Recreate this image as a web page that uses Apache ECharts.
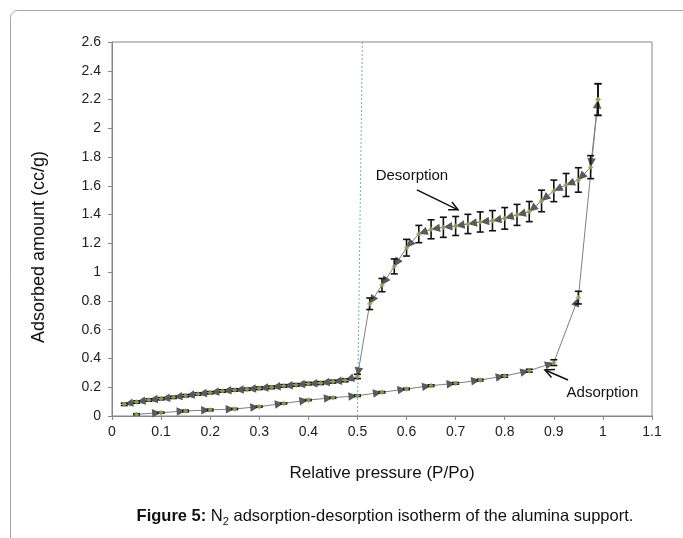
<!DOCTYPE html>
<html><head><meta charset="utf-8">
<script src="https://cdn.jsdelivr.net/npm/echarts@6/dist/echarts.min.js"></script>
<style>html,body{margin:0;padding:0;background:#fff}#c{width:683px;height:538px}</style>
</head><body><div id="c"></div>
<script>
// Adsorption branch (increasing P/Po)
const adsX = [0.05,0.1,0.15,0.2,0.25,0.3,0.35,0.4,0.45,0.5,0.55,0.6,0.65,0.7,0.75,0.8,0.85,0.9,0.95,0.99];
const adsY = [0.012,0.023,0.035,0.042,0.049,0.065,0.088,0.111,0.127,0.141,0.165,0.188,0.211,0.227,0.25,0.278,0.315,0.371,0.823,2.2];
const adsErr = [0.004,0.004,0.006,0.006,0.004,0.004,0.004,0.004,0.004,0.005,0.005,0.005,0.006,0.006,0.006,0.008,0.01,0.02,0.044,0.11];
// Desorption branch (decreasing P/Po)
const desX = [0.99,0.975,0.95,0.925,0.9,0.875,0.85,0.825,0.8,0.775,0.75,0.725,0.7,0.675,0.65,0.625,0.6,0.575,0.55,0.525,0.5,0.475,0.45,0.425,0.4,0.375,0.35,0.325,0.3,0.275,0.25,0.225,0.2,0.175,0.15,0.125,0.1,0.075,0.05,0.025];
const desY = [2.2,1.73,1.641,1.606,1.565,1.495,1.421,1.398,1.374,1.358,1.349,1.335,1.321,1.312,1.298,1.265,1.17,1.04,0.91,0.78,0.275,0.248,0.239,0.229,0.225,0.216,0.209,0.199,0.193,0.186,0.181,0.174,0.162,0.153,0.141,0.13,0.12,0.111,0.097,0.081];
const desErr = [0.11,0.08,0.085,0.08,0.075,0.075,0.07,0.073,0.075,0.07,0.07,0.067,0.066,0.07,0.066,0.06,0.058,0.052,0.046,0.04,0.015,0.01,0.01,0.01,0.009,0.009,0.009,0.009,0.009,0.008,0.008,0.008,0.008,0.008,0.008,0.008,0.008,0.008,0.008,0.008];

const xTitle = 'Relative pressure (P/Po)';
const yTitle = 'Adsorbed amount (cc/g)';
const captionBold = 'Figure 5:';
const captionRest = ' adsorption-desorption isotherm of the alumina support.';
const refLineX = [0.5, 0.51];
const refLineY = [0, 2.6];
// annotations in data space
const annDes = {text: 'Desorption', at: [0.611, 1.672], tail: [0.621, 1.572], head: [0.705, 1.433]};
const annAds = {text: 'Adsorption', at: [0.999, 0.16], tail: [0.929, 0.25], head: [0.882, 0.32]};

const FONT = 'Liberation Sans, Arial, sans-serif';
const zip = (xs, ys) => xs.map((x, i) => [x, ys[i]]);

function arrowSeries(xs, ys) {
  const data = [];
  for (let i = 1; i < xs.length; i++) data.push([xs[i], ys[i], xs[i-1], ys[i-1]]);
  return {
    type: 'custom', z: 3, silent: true, clip: false,
    encode: {x: [0, 2], y: [1, 3]},
    data,
    renderItem(params, api) {
      const p = api.coord([api.value(0), api.value(1)]);
      const q = api.coord([api.value(2), api.value(3)]);
      let dx = p[0] - q[0], dy = p[1] - q[1];
      const len = Math.hypot(dx, dy) || 1; dx /= len; dy /= len;
      const L = 9, W = 8.5;
      const bx = p[0] - dx * L, by = p[1] - dy * L;
      const nx = -dy * W / 2, ny = dx * W / 2;
      return {type: 'polygon', shape: {points: [[p[0], p[1]], [bx + nx, by + ny], [bx - nx, by - ny]]}, style: {fill: '#5a5a5a'}};
    }
  };
}
function errSeries(xs, ys, es) {
  return {
    type: 'custom', z: 4, silent: true, clip: false,
    encode: {x: 0, y: [1, 2]},
    data: xs.map((x, i) => [x, ys[i] - es[i], ys[i] + es[i]]),
    renderItem(params, api) {
      const x = api.value(0);
      const lo = api.coord([x, api.value(1)]), hi = api.coord([x, api.value(2)]);
      const c = 3.5, st = {stroke: '#111', lineWidth: 1.6};
      return {type: 'group', children: [
        {type: 'line', shape: {x1: lo[0], y1: lo[1], x2: hi[0], y2: hi[1]}, style: st},
        {type: 'line', shape: {x1: lo[0] - c, y1: lo[1], x2: lo[0] + c, y2: lo[1]}, style: st},
        {type: 'line', shape: {x1: hi[0] - c, y1: hi[1], x2: hi[0] + c, y2: hi[1]}, style: st}
      ]};
    }
  };
}
const lineS = (xs, ys) => ({
  type: 'line', data: zip(xs, ys), symbol: 'none', z: 2, silent: true,
  lineStyle: {color: '#7f7f7f', width: 1}
});
const dotS = (xs, ys) => ({
  type: 'scatter', data: zip(xs, ys), symbol: 'diamond', symbolSize: 5, z: 5, silent: true,
  itemStyle: {color: '#9bbb59', borderColor: '#76923c', borderWidth: 0.5}
});

const chart = echarts.init(document.getElementById('c'), null, {renderer: 'canvas'});
chart.setOption({
  animation: false,
  backgroundColor: '#fff',
  grid: {left: 112, right: 31, top: 42, bottom: 122, show: true, borderColor: '#868686', borderWidth: 1, containLabel: false, outerBoundsMode: 'none'},
  xAxis: {
    type: 'value', min: 0, max: 1.1, interval: 0.1,
    axisLine: {show: true, lineStyle: {color: '#868686'}},
    axisTick: {show: true, length: 4, lineStyle: {color: '#868686'}},
    axisLabel: {fontSize: 14, color: '#222', margin: 9, fontFamily: FONT},
    splitLine: {show: false}
  },
  yAxis: {
    type: 'value', min: 0, max: 2.6, interval: 0.2,
    axisLine: {show: true, lineStyle: {color: '#868686'}},
    axisTick: {show: true, length: 4, lineStyle: {color: '#868686'}},
    axisLabel: {fontSize: 14, color: '#222', margin: 11, fontFamily: FONT},
    splitLine: {show: false}
  },
  series: [
    {type: 'line', data: zip(refLineX, refLineY), symbol: 'none', z: 1, silent: true,
     lineStyle: {color: '#7aa6dc', width: 1, type: [2, 2]}},
    lineS(adsX, adsY),
    lineS(desX, desY),
    arrowSeries(adsX, adsY),
    arrowSeries(desX, desY),
    errSeries(adsX, adsY, adsErr),
    errSeries(desX, desY, desErr),
    dotS(adsX, adsY),
    dotS(desX, desY)
  ]
});

function arrowGraphic(ann) {
  const t = chart.convertToPixel({gridIndex: 0}, ann.tail);
  const h = chart.convertToPixel({gridIndex: 0}, ann.head);
  const ang = Math.atan2(h[1] - t[1], h[0] - t[0]);
  const L = 10, a = 0.45;
  const p1 = [h[0] - L * Math.cos(ang - a), h[1] - L * Math.sin(ang - a)];
  const p2 = [h[0] - L * Math.cos(ang + a), h[1] - L * Math.sin(ang + a)];
  const st = {stroke: '#111', lineWidth: 1.5, fill: null};
  return [
    {type: 'line', shape: {x1: t[0], y1: t[1], x2: h[0], y2: h[1]}, style: st, z: 10},
    {type: 'polyline', shape: {points: [p1, h, p2]}, style: st, z: 10}
  ];
}
function annText(ann) {
  const p = chart.convertToPixel({gridIndex: 0}, ann.at);
  return {type: 'text', x: p[0], y: p[1], z: 10, style: {text: ann.text, font: '15px ' + FONT, fill: '#111', align: 'center', verticalAlign: 'middle', textAlign: 'center', textVerticalAlign: 'middle'}};
}

chart.setOption({
  graphic: [
    {type: 'rect', shape: {x: 10.5, y: 10.5, width: 720, height: 600, r: [7, 0, 0, 0]}, style: {fill: null, stroke: '#a6a6a6', lineWidth: 1}, z: 0, silent: true},
    ...arrowGraphic(annDes), ...arrowGraphic(annAds), annText(annDes), annText(annAds),
    {type: 'text', x: 39, y: 247, rotation: Math.PI / 2, style: {text: yTitle, font: '18px ' + FONT, fill: '#111', align: 'center', verticalAlign: 'middle', textAlign: 'center', textVerticalAlign: 'middle'}},
    {type: 'text', x: 382, y: 473, style: {text: xTitle, font: '17px ' + FONT, fill: '#111', align: 'center', verticalAlign: 'middle', textAlign: 'center', textVerticalAlign: 'middle'}},
    {type: 'text', x: 385, y: 516, style: {
      text: '{b|' + captionBold + '} N{s|2}' + captionRest,
      font: '16.5px ' + FONT, fill: '#111', lineHeight: 22,
      align: 'center', verticalAlign: 'middle', textAlign: 'center', textVerticalAlign: 'middle',
      rich: {
        b: {fontWeight: 'bold', fontSize: 16.5, fontFamily: FONT, lineHeight: 22, fill: '#111'},
        s: {fontSize: 11, fontFamily: FONT, verticalAlign: 'bottom', lineHeight: 9, fill: '#111'}
      }
    }}
  ]
});
</script></body></html>
